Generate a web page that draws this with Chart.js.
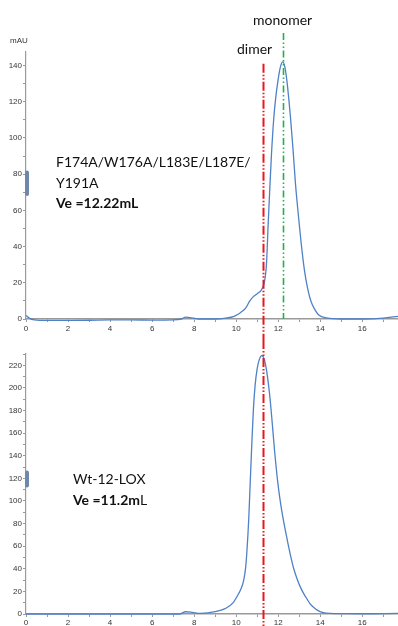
<!DOCTYPE html>
<html>
<head>
<meta charset="utf-8">
<script src="https://cdn.jsdelivr.net/npm/chart.js@4.4.1/dist/chart.umd.min.js"></script>
<style>
  html, body { margin: 0; padding: 0; background: #fff; }
  #wrap { position: relative; width: 398px; height: 626px; overflow: hidden; font-family: Lato, sans-serif; color: #111; }
  canvas { position: absolute; left: 0; }
  .t { position: absolute; white-space: nowrap; font-size: 14px; line-height: 14px; }
  .unit { position: absolute; font: 8px "Liberation Sans", sans-serif; line-height: 8px; color: #333; }
</style>
</head>
<body>
<div id="wrap">
  <canvas id="topChart" width="398" height="340" style="top:0"></canvas>
  <canvas id="botChart" width="398" height="286" style="top:340px"></canvas>

  <div class="unit" style="left:10px; top:37px;">mAU</div>
  <div class="t" style="left:253px; top:12.6px;">monomer</div>
  <div class="t" style="left:237px; top:41.6px;">dimer</div>

  <div class="t" style="left:56px; top:152px; line-height:20.6px;">
    F174A/W176A/L183E/L187E/<br>Y191A<br><b>Ve =12.22mL</b>
  </div>
  <div class="t" style="left:73px; top:468px; line-height:21px;">
    Wt-12-LOX<br><b>Ve =11.2m</b>L
  </div>
</div>

<script>
// elution volume (mL) and absorbance (mAU)
const mutantVolume = [0, 0.15, 0.4, 1, 2, 3, 4, 5, 6, 7, 7.4, 7.6, 7.8, 8.2, 9, 9.5, 9.9, 10.2, 10.45, 10.65, 10.83, 11.0, 11.2, 11.3, 11.38, 11.44, 11.48, 11.52, 11.6, 11.68, 11.79, 11.88, 11.98, 12.1, 12.22, 12.32, 12.42, 12.5, 12.58, 12.71, 12.82, 12.98, 13.14, 13.26, 13.38, 13.5, 13.62, 13.78, 13.93, 14.3, 15, 16, 17, 17.7];
const mutantMAU    = [2, 0.5, -0.5, -0.8, -0.8, -0.7, -0.5, -0.5, -0.6, -0.5, 0, 1, 0.8, 0, 0, 0.5, 1.5, 3.5, 6, 10, 12.5, 14, 16, 18.5, 23, 30, 40, 52, 72, 91, 111, 122, 131, 139, 142, 139, 131, 122, 112, 93, 75, 55, 37, 26, 18, 12, 8, 4.5, 2.2, 0.6, 0, 0, 0.5, 1.5];

const wtVolume = [0, 7.3, 7.6, 7.9, 8.3, 9, 9.5, 9.86, 10.04, 10.2, 10.36, 10.45, 10.52, 10.6, 10.67, 10.75, 10.82, 10.9, 11.0, 11.1, 11.22, 11.34, 11.45, 11.55, 11.62, 11.72, 11.82, 11.97, 12.08, 12.19, 12.35, 12.49, 12.62, 12.74, 12.9, 13.05, 13.2, 13.38, 13.52, 13.68, 13.9, 14.15, 14.5, 15, 16, 17.7];
const wtMAU    = [0, 0, 2, 1.5, 0.5, 2, 5, 10, 15.5, 21, 30, 41, 58, 85, 117, 153, 181, 202, 217, 225, 228.5, 225, 215, 201, 189, 168, 146, 118, 102, 89, 73, 60, 49, 40, 31, 24, 18.5, 13, 9, 6, 3, 1.2, 0.5, 0.3, 0.2, 0.5];

const dimerVe = 11.27;
const monomerVe = 12.25;

const xTicks = { min: 0, max: 17.7, step: 1 };
const topYMax = 147.5;
const botYMax = 230;

const toPoints = (xs, ys) => xs.map((x, i) => ({ x: x, y: ys[i] }));

// vertical marker lines + the little scroll handles on the y axis
const markerPlugin = {
  id: 'markers',
  afterDatasetsDraw(chart, args, opts) {
    const ctx = chart.ctx;
    const xs = chart.scales.x, ys = chart.scales.y;
    ctx.save();
    (opts.lines || []).forEach(l => {
      const px = Math.round(xs.getPixelForValue(l.x)) + 0.5;
      const y0 = l.from == null ? 0 : ys.getPixelForValue(l.from);
      const y1 = l.to == null ? chart.height : ys.getPixelForValue(l.to);
      ctx.strokeStyle = l.color;
      ctx.lineWidth = l.width;
      ctx.setLineDash(l.dash);
      ctx.beginPath();
      ctx.moveTo(px, y0);
      ctx.lineTo(px, y1);
      ctx.stroke();
    });
    ctx.setLineDash([]);
    if (opts.handle) {
      const a = ys.getPixelForValue(opts.handle[1]);
      const b = ys.getPixelForValue(opts.handle[0]);
      ctx.fillStyle = '#6f87ab';
      ctx.beginPath();
      ctx.roundRect(chart.chartArea.left - 1, a, 4, b - a, 2);
      ctx.fill();
    }
    ctx.restore();
  }
};

function makeOptions(yMax, padTop, xHeight, xPad, markers) {
  return {
    responsive: false,
    animation: false,
    layout: { padding: { top: padTop, left: 0, right: 0, bottom: 0 } },
    plugins: { legend: { display: false }, tooltip: { enabled: false }, markers: markers },
    elements: { point: { radius: 0 } },
    scales: {
      x: {
        type: 'linear',
        min: xTicks.min,
        max: xTicks.max,
        afterFit: s => { s.height = xHeight; },
        border: { color: '#9a9a9a', width: 1.5 },
        grid: { drawOnChartArea: false, drawTicks: true, tickLength: 3, color: '#9a9a9a' },
        ticks: {
          stepSize: xTicks.step,
          includeBounds: false,
          autoSkip: false,
          maxRotation: 0,
          padding: xPad,
          color: '#333',
          font: { family: 'Liberation Sans', size: 8 },
          callback: v => (v % 2 === 0 ? v : '')
        }
      },
      y: {
        min: 0,
        max: yMax,
        afterFit: s => { s.width = 26; },
        border: { color: '#9a9a9a', width: 1.2 },
        grid: { drawOnChartArea: false, drawTicks: true, tickLength: 3, color: '#9a9a9a' },
        ticks: {
          stepSize: 10,
          includeBounds: false,
          autoSkip: false,
          padding: 1,
          color: '#333',
          font: { family: 'Liberation Sans', size: 8 },
          callback: v => (v % 20 === 0 ? v : '')
        }
      }
    }
  };
}

const traceStyle = {
  borderColor: '#4f81c7',
  borderWidth: 1.3,
  cubicInterpolationMode: 'monotone',
  fill: false,
  clip: 4
};

const redDash = [9, 2, 1.5, 2, 1.5, 2];
const greenDash = [7, 2.5, 1.5, 2.5, 1.5, 2.5];

new Chart(document.getElementById('topChart'), {
  type: 'line',
  data: { datasets: [Object.assign({ data: toPoints(mutantVolume, mutantMAU) }, traceStyle)] },
  options: makeOptions(topYMax, 52, 21, 2, {
    lines: [
      { x: dimerVe, from: 141, to: null, color: '#e8161e', width: 2, dash: redDash },
      { x: monomerVe, from: 158, to: 0, color: '#1fb24c', width: 1.6, dash: greenDash }
    ],
    handle: [68, 82]
  }),
  plugins: [markerPlugin]
});

new Chart(document.getElementById('botChart'), {
  type: 'line',
  data: { datasets: [Object.assign({ data: toPoints(wtVolume, wtMAU) }, traceStyle)] },
  options: makeOptions(botYMax, 14, 12, 1, {
    lines: [
      { x: dimerVe, from: null, to: null, color: '#e8161e', width: 2, dash: redDash }
    ],
    handle: [112, 127]
  }),
  plugins: [markerPlugin]
});
</script>
</body>
</html>
